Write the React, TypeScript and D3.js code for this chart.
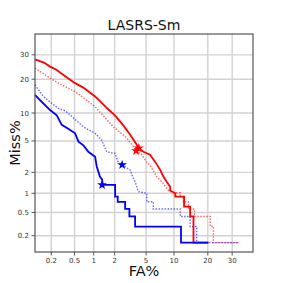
import * as d3 from "d3";
import React, { useRef, useEffect } from "react";

// DET curves, [FA%, Miss%] vertices
const redSolid: [number, number][] = [
  [0.1, 28], [0.15, 26.5], [0.19, 24.9], [0.25, 23.5], [0.33, 21.5], [0.51, 18.6],
  [0.7, 17.0], [1.05, 14.3], [1.24, 13.0], [1.6, 11.0], [2.03, 9.4], [2.6, 7.5],
  [3.2, 5.9], [3.87, 4.5], [4.1, 4.1], [4.65, 3.7], [5.55, 3.4], [6.3, 2.8],
  [7.2, 2.16], [7.8, 1.74], [8.5, 1.45], [9.15, 1.25], [9.15, 1.1], [10.3, 1.0],
  [10.3, 0.89], [12.5, 0.89], [12.5, 0.62], [14.2, 0.62], [14.2, 0.43],
  [15.2, 0.43], [15.2, 0.15], [20.2, 0.15],
];
const redDotted: [number, number][] = [
  [0.1, 24.3], [0.19, 20.4], [0.3, 18], [0.51, 15.8], [0.75, 13.5], [1.05, 11.5],
  [1.24, 10.2], [1.92, 7.2], [2.9, 5.4], [3.4, 4.5], [3.8, 3.8], [4.45, 3.4],
  [5.0, 2.8], [5.55, 2.5], [6.6, 1.74], [7.5, 1.48], [8.8, 1.1], [9.7, 1.02],
  [11.5, 1.02], [11.5, 0.89], [12.3, 0.89], [12.3, 0.74], [13.7, 0.74],
  [13.7, 0.57], [15.5, 0.57], [15.5, 0.43], [20.9, 0.43], [20.9, 0.29],
  [22.1, 0.29], [22.1, 0.15], [33, 0.15],
];
const blueSolid: [number, number][] = [
  [0.1, 14.8], [0.124, 13.3], [0.19, 10.7], [0.25, 9.5], [0.305, 7.55], [0.4, 6.8],
  [0.51, 6.1], [0.58, 4.9], [0.7, 4.4], [0.83, 3.7], [1.05, 3.2], [1.11, 2.4],
  [1.24, 1.74], [1.33, 1.6], [1.36, 1.33], [2.03, 1.33], [2.03, 0.89], [2.2, 0.89],
  [2.2, 0.74], [2.76, 0.74], [2.76, 0.57], [3.13, 0.57], [3.13, 0.43],
  [3.69, 0.43], [3.69, 0.29], [11.7, 0.29], [11.7, 0.15], [20.2, 0.15],
];
const blueDotted: [number, number][] = [
  [0.1, 18], [0.143, 14.3], [0.2, 12.5], [0.266, 11.1], [0.35, 10.5], [0.42, 9.6],
  [0.69, 7.2], [1.05, 6.1], [1.31, 5.1], [1.42, 4.4], [1.55, 3.7], [2.03, 3.55],
  [2.2, 2.8], [2.5, 2.52], [3.2, 2.16], [3.4, 1.8], [3.69, 1.48], [4.05, 1.06],
  [5.1, 1.0], [5.1, 0.74], [6.05, 0.74], [6.05, 0.57], [11.5, 0.57], [11.5, 0.43],
  [14.2, 0.43], [14.2, 0.29], [16.2, 0.29], [16.2, 0.15], [33, 0.15],
];
// equal error rate markers
const eerPoints = [
  { v: 4.1, color: "#ff0000" },
  { v: 3.8, color: "#ff0000" },
  { v: 1.33, color: "#0000ff" },
  { v: 2.52, color: "#0000ff" },
];
const ticks = [0.2, 0.5, 1, 2, 5, 10, 20, 30];
const limits = [0.1, 40];

// inverse normal cdf (Acklam)
const probit = (p: number) => {
  const a = [-39.6968302866538, 220.946098424521, -275.928510446969, 138.357751867269, -30.6647980661472, 2.50662827745924];
  const b = [-54.4760987982241, 161.585836858041, -155.698979859887, 66.8013118877197, -13.2806815528857];
  const c = [-0.00778489400243029, -0.322396458041136, -2.40075827716184, -2.54973253934373, 4.37466414146497, 2.93816398269878];
  const dd = [0.00778469570904146, 0.32246712907004, 2.445134137143, 3.75440866190742];
  const pl = 0.02425;
  if (p < pl) {
    const q = Math.sqrt(-2 * Math.log(p));
    return (((((c[0] * q + c[1]) * q + c[2]) * q + c[3]) * q + c[4]) * q + c[5]) /
      ((((dd[0] * q + dd[1]) * q + dd[2]) * q + dd[3]) * q + 1);
  }
  if (p > 1 - pl) return -probit(1 - p);
  const q = p - 0.5;
  const r = q * q;
  return (((((a[0] * r + a[1]) * r + a[2]) * r + a[3]) * r + a[4]) * r + a[5]) * q /
    (((((b[0] * r + b[1]) * r + b[2]) * r + b[3]) * r + b[4]) * r + 1);
};

const App = () => {
  const svgRef = useRef(null);

  useEffect(() => {
    const svg = d3.select(svgRef.current);
    svg.selectAll("*").remove();

    const left = 35, right = 253, top = 34, bottom = 252;
    const xLin = d3.scaleLinear()
      .domain(limits.map((v) => probit(v / 100)))
      .range([left, right]);
    const yLin = d3.scaleLinear()
      .domain(limits.map((v) => probit(v / 100)))
      .range([bottom, top]);
    const x = (v: number) => xLin(probit(v / 100));
    const y = (v: number) => yLin(probit(v / 100));

    const font = "DejaVu Sans, sans-serif";

    // grid
    const grid = svg.append("g").attr("stroke", "#d2d2d2").attr("stroke-width", 1.4);
    grid.selectAll(".gx").data(ticks).join("line")
      .attr("x1", (d) => x(d)).attr("x2", (d) => x(d))
      .attr("y1", top).attr("y2", bottom);
    grid.selectAll(".gy").data(ticks).join("line")
      .attr("y1", (d) => y(d)).attr("y2", (d) => y(d))
      .attr("x1", left).attr("x2", right);

    const line = d3.line<[number, number]>()
      .x((d) => x(d[0]))
      .y((d) => y(d[1]));

    const plot = svg.append("g").attr("fill", "none");
    const curves = [
      { data: redDotted, color: "#ff0000", dotted: true },
      { data: blueDotted, color: "#0000ff", dotted: true },
      { data: redSolid, color: "#ff0000", dotted: false },
      { data: blueSolid, color: "#0000ff", dotted: false },
    ];
    curves.forEach((c) => {
      plot.append("path")
        .attr("d", line(c.data))
        .attr("stroke", c.color)
        .attr("stroke-width", c.dotted ? 1.4 : 1.8)
        .attr("stroke-opacity", c.dotted ? 0.6 : 1)
        .attr("stroke-dasharray", c.dotted ? "1.5,1.5" : null);
    });

    svg.append("g").selectAll("path").data(eerPoints).join("path")
      .attr("d", d3.symbol(d3.symbolStar, 30))
      .attr("transform", (d) => `translate(${x(d.v)},${y(d.v)})`)
      .attr("fill", (d) => d.color);

    // frame
    svg.append("rect")
      .attr("x", left).attr("y", top)
      .attr("width", right - left).attr("height", bottom - top)
      .attr("fill", "none").attr("stroke", "#555").attr("stroke-width", 1.2);

    // ticks + labels
    const ax = svg.append("g").attr("font-family", font).attr("font-size", 7).attr("fill", "#333");
    ticks.forEach((t) => {
      ax.append("line")
        .attr("x1", x(t)).attr("x2", x(t)).attr("y1", bottom).attr("y2", bottom + 3.5)
        .attr("stroke", "#555");
      ax.append("text")
        .attr("x", x(t)).attr("y", bottom + 10.5)
        .attr("text-anchor", "middle")
        .text(String(t));
      ax.append("line")
        .attr("y1", y(t)).attr("y2", y(t)).attr("x1", left).attr("x2", left - 3.5)
        .attr("stroke", "#555");
      ax.append("text")
        .attr("x", left - 6).attr("y", y(t) + 2.5)
        .attr("text-anchor", "end")
        .text(String(t));
    });

    svg.append("text")
      .attr("x", (left + right) / 2).attr("y", 30)
      .attr("text-anchor", "middle")
      .attr("font-family", font).attr("font-size", 14)
      .attr("fill", "#111")
      .text("LASRS-Sm");

    svg.append("text")
      .attr("x", (left + right) / 2).attr("y", 276)
      .attr("text-anchor", "middle")
      .attr("font-family", font).attr("font-size", 14.5)
      .attr("fill", "#111")
      .text("FA%");

    svg.append("text")
      .attr("transform", `translate(20,${(top + bottom) / 2}) rotate(-90)`)
      .attr("text-anchor", "middle")
      .attr("font-family", font).attr("font-size", 14.5)
      .attr("fill", "#111")
      .text("Miss%");
  }, []);

  return (
    <svg
      ref={svgRef}
      width={283}
      height={283}
      style={{ position: "absolute", left: 0, top: 0, background: "#fff" }}
    ></svg>
  );
};

export default App;
